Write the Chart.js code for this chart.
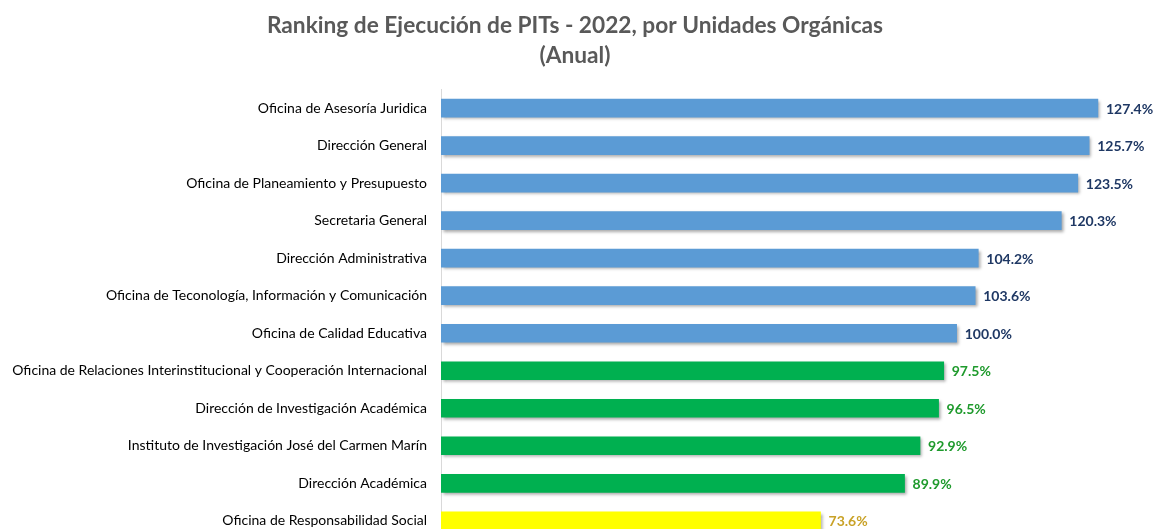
<!DOCTYPE html>
<html>
<head>
<meta charset="utf-8">
<script src="https://cdn.jsdelivr.net/npm/chart.js@4/dist/chart.umd.min.js"></script>
<style>
  html, body { margin: 0; padding: 0; background: #fff; overflow: hidden; }
  #clip { width: 1156px; height: 529px; overflow: hidden; }
  #wrap { position: relative; width: 1156px; height: 562px; }
</style>
</head>
<body>
<div id="clip"><div id="wrap"><canvas id="chart"></canvas></div></div>
<script>
// Ranking de ejecución de PITs 2022 (anual), por unidad orgánica
const unidades = [
  "Oficina de Asesoría Juridica",
  "Dirección General",
  "Oficina de Planeamiento y Presupuesto",
  "Secretaria General",
  "Dirección Administrativa",
  "Oficina de Teconología, Información y Comunicación",
  "Oficina de Calidad Educativa",
  "Oficina de Relaciones Interinstitucional y Cooperación Internacional",
  "Dirección de Investigación Académica",
  "Instituto de Investigación José del Carmen Marín",
  "Dirección Académica",
  "Oficina de Responsabilidad Social",
];
const ejecucion = [127.4, 125.7, 123.5, 120.3, 104.2, 103.6, 100.0, 97.5, 96.5, 92.9, 89.9, 73.6];

const FONT = "Lato, 'Open Sans', sans-serif";

// color by tier: >=100 blue, >=80 green, else yellow
function barColor(v) {
  if (v >= 100) return "#5b9bd5";
  if (v >= 80) return "#00b050";
  return "#ffff00";
}
function labelColor(v) {
  if (v >= 100) return "#1f3864";
  if (v >= 80) return "#1e9a2c";
  return "#c9a227";
}

// soft drop shadow under bars
const barShadow = {
  id: "barShadow",
  beforeDatasetDraw(chart) {
    const ctx = chart.ctx;
    ctx.save();
    ctx.shadowColor = "rgba(0,0,0,0.35)";
    ctx.shadowOffsetX = 2;
    ctx.shadowOffsetY = 2;
    ctx.shadowBlur = 3;
  },
  afterDatasetDraw(chart) {
    chart.ctx.restore();
  },
};

// value labels at the end of each bar
const valueLabels = {
  id: "valueLabels",
  afterDatasetsDraw(chart) {
    const ctx = chart.ctx;
    const meta = chart.getDatasetMeta(0);
    ctx.save();
    ctx.font = "bold 14px " + FONT;
    ctx.textAlign = "left";
    ctx.textBaseline = "middle";
    meta.data.forEach((bar, i) => {
      const v = ejecucion[i];
      ctx.fillStyle = labelColor(v);
      ctx.fillText(v.toFixed(1) + "%", bar.x + 8, bar.y + 1);
    });
    ctx.restore();
  },
};

new Chart(document.getElementById("chart"), {
  type: "bar",
  data: {
    labels: unidades,
    datasets: [{
      data: ejecucion,
      backgroundColor: ejecucion.map(barColor),
      borderWidth: 0,
      barThickness: 18,
    }],
  },
  options: {
    indexAxis: "y",
    responsive: true,
    maintainAspectRatio: false,
    animation: false,
    layout: { padding: { left: 0, right: 6, top: 0, bottom: 0 } },
    plugins: {
      legend: { display: false },
      tooltip: { enabled: false },
      title: {
        display: true,
        text: ["Ranking de Ejecución de PITs - 2022, por Unidades Orgánicas", "(Anual)"],
        color: "#595959",
        font: { family: FONT, size: 22.7, weight: "bold", lineHeight: 1.35 },
        padding: { top: 10, bottom: 18 },
      },
    },
    scales: {
      x: {
        display: false,
        min: 0,
        max: 137.5,
      },
      y: {
        grid: { display: false, drawTicks: false },
        border: { display: true, color: "#d9d9d9", width: 1 },
        ticks: {
          color: "#000",
          font: { family: FONT, size: 14 },
          padding: 14,
        },
        afterFit(scale) { scale.width = 441; },
      },
    },
  },
  plugins: [barShadow, valueLabels],
});
</script>
</body>
</html>
